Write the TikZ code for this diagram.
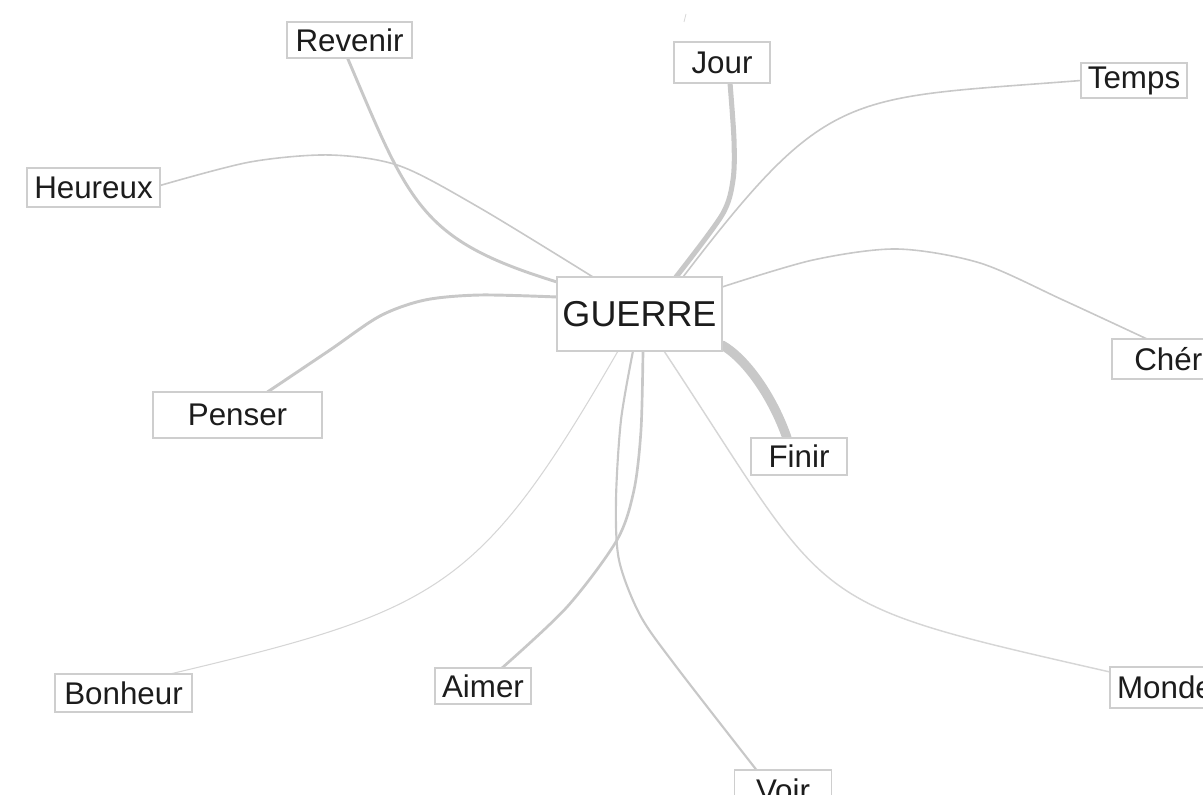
\documentclass[tikz,border=0pt]{standalone}
\usepackage{fontspec}
\setmainfont{Liberation Sans}
\usetikzlibrary{calc}
\definecolor{edgec}{RGB}{200,200,200}
\definecolor{edgelt}{RGB}{214,214,214}
\definecolor{boxc}{RGB}{206,206,206}
\definecolor{txt}{RGB}{28,28,28}
\pgfdeclarelayer{bg}
\pgfsetlayers{bg,main}
\begin{document}
\begin{tikzpicture}[x=0.75pt,y=-0.75pt,
  lbl/.style 2 args={draw=boxc, line width=1.3pt, fill=white, text=txt,
    inner sep=0pt, outer sep=0pt, minimum width=#1*0.75pt, minimum height=#2*0.75pt,
    font=\fontsize{23.5}{27}\selectfont},
  link/.style={draw=edgec, line cap=round, line join=round},
  linklt/.style={draw=edgelt, line cap=round, line join=round}]
\useasboundingbox (0,0) rectangle (1203,795);
\clip (0,0) rectangle (1203,795);

% nodes
\node[lbl={125}{36}] (rev) at (349.5,40) {Revenir};
\node[lbl={96}{41}] (jour) at (722,62.5) {Jour};
\node[lbl={106}{35}] (tem) at (1134,80.5) {Temps};
\node[lbl={133}{39}] (heu) at (93.5,187.5) {Heureux};
\node[lbl={165}{74}, font=\fontsize{27}{32}\selectfont] (g) at (639.5,314) {GUERRE};
\node[lbl={130}{40}] (che) at (1177,359) {Chérir};
\node[lbl={169}{46}] (pen) at (237.5,415) {Penser};
\node[lbl={96}{37}] (fin) at (799,456.5) {Finir};
\node[lbl={137}{38}] (bon) at (123.5,693) {Bonheur};
\node[lbl={96}{36}] (aim) at (483,686) {Aimer};
\node[lbl={97}{40}] (voir) at (783,790) {Voir};
\node[lbl={110}{41}] (mon) at (1165,687.5) {Monde};

% attachment points on the node borders
\coordinate (revS) at ($(rev.south)+(-2,0)$);
\coordinate (gRev) at ($(g.north west)+(0,5)$);
\coordinate (heuE) at ($(heu.east)+(0,-2)$);
\coordinate (gHeu) at ($(g.north west)+(36,0)$);
\coordinate (jourS) at ($(jour.south)+(8,0)$);
\coordinate (gJour) at ($(g.north west)+(119,0)$);
\coordinate (gTem) at ($(g.north west)+(126,0)$);
\coordinate (gChe) at ($(g.north east)+(0,10)$);
\coordinate (cheN) at ($(che.north west)+(35,0)$);
\coordinate (gFin) at ($(g.south east)+(0,-6)$);
\coordinate (finN) at ($(fin.north)+(-12,0)$);
\coordinate (penN) at ($(pen.north)+(30,0)$);
\coordinate (gPen) at ($(g.north west)+(0,20)$);
\coordinate (bonN) at ($(bon.north east)+(-22,0)$);
\coordinate (gBon) at ($(g.south west)+(61,0)$);
\coordinate (aimN) at ($(aim.north)+(19,0)$);
\coordinate (gAim) at ($(g.south west)+(86,0)$);
\coordinate (gVoir) at ($(g.south west)+(76,0)$);
\coordinate (voirN) at ($(voir.north west)+(22,0)$);
\coordinate (gMon) at ($(g.south west)+(107,0)$);
\coordinate (monW) at ($(mon.north west)+(0,5)$);

\begin{pgfonlayer}{bg}
\draw[link, line width=2.2pt] (revS) .. controls (410,205) and (420,240) .. (gRev);
\draw[link, line width=1.2pt] plot[smooth] coordinates {(heuE) (250,162) (330,155) (400,166) (480,208) (gHeu)};
\draw[link, line width=3.8pt] plot[smooth] coordinates {(jourS) (734,140) (733,180) (722,215) (gJour)};
\draw[link, line width=1.2pt] (tem.west) .. controls (846,99) and (829,86) .. (gTem);
\draw[link, line width=1.2pt] plot[smooth] coordinates {(gChe) (813,260) (897,249) (980,263) (1063,300) (cheN)};
\draw[link, line width=7pt] (gFin) .. controls (745,358) and (772,395) .. (finN);
\draw[link, line width=2.2pt] plot[smooth] coordinates {(penN) (330,350) (380,316) (425,300) (480,295) (gPen)};
\draw[linklt, line width=0.8pt] (bonN) .. controls (440,610) and (480,590) .. (gBon);
\draw[link, line width=2pt] plot[smooth] coordinates {(aimN) (567,607) (617,540) (634,490) (641,430) (gAim)};
\draw[link, line width=1.6pt] plot[smooth] coordinates {(gVoir) (621,420) (616,500) (619,560) (640,615) (675,665) (voirN)};
\draw[linklt, line width=1.1pt] (gMon) .. controls (835,610) and (798,601) .. (monW);
\draw[edgelt, line width=0.6pt] (686,14) -- (684,22);
\end{pgfonlayer}
\end{tikzpicture}
\end{document}
